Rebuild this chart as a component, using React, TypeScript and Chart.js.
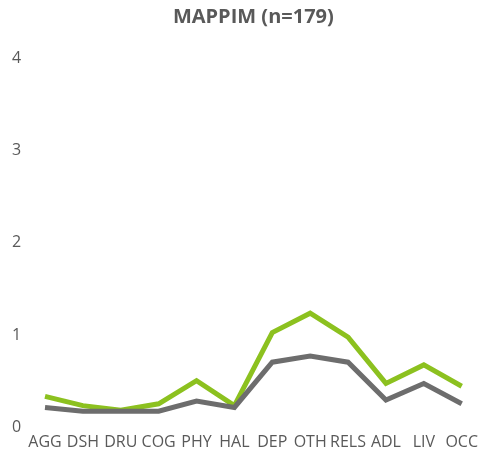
import React, { useEffect, useRef } from "react";
import { Chart, registerables } from "chart.js";

Chart.register(...registerables);

const categories = ["AGG", "DSH", "DRU", "COG", "PHY", "HAL", "DEP", "OTH", "RELS", "ADL", "LIV", "OCC"];
const greenSeries = [0.34, 0.24, 0.19, 0.26, 0.51, 0.24, 1.03, 1.24, 0.98, 0.48, 0.68, 0.45];
const graySeries = [0.22, 0.18, 0.18, 0.18, 0.29, 0.22, 0.71, 0.775, 0.71, 0.3, 0.48, 0.26];
const yTicks = [0, 1, 2, 3, 4];
const titleText = "MAPPIM (n=179)";

export default function App() {
  const ref = useRef<HTMLCanvasElement | null>(null);
  useEffect(() => {
    if (!ref.current) return;
    const chart = new Chart(ref.current, {
      type: "line",
      data: {
        labels: categories,
        datasets: [
          {
            data: graySeries,
            borderColor: "#6d6d6d",
            borderWidth: 5,
            pointRadius: 0,
            tension: 0,
            fill: false,
          },
          {
            data: greenSeries,
            borderColor: "#8cc11f",
            borderWidth: 5,
            pointRadius: 0,
            tension: 0,
            fill: false,
          },
        ],
      },
      options: {
        animation: false,
        responsive: false,
        maintainAspectRatio: false,
        layout: { padding: { left: 12, right: 16, top: 5, bottom: -2 } },
        plugins: {
          legend: { display: false },
          tooltip: { enabled: false },
          title: {
            display: true,
            text: titleText,
            color: "#595959",
            font: { family: "'Open Sans'", size: 20, weight: "bold", lineHeight: 1.2 },
            padding: { top: 0, bottom: 29 },
            fullSize: false,
          },
        },
        scales: {
          x: {
            offset: false,
            grid: { display: false, drawTicks: false },
            border: { display: false },
            ticks: {
              color: "#595959",
              font: { family: "'Open Sans'", size: 16, lineHeight: 1.2 },
              maxRotation: 0,
              autoSkip: false,
              padding: 5,
            },
          },
          y: {
            min: 0,
            max: 4,
            grid: { display: false, drawTicks: false },
            border: { display: false },
            afterBuildTicks: (axis: any) => {
              axis.ticks = yTicks.map((v) => ({ value: v }));
            },
            afterFit: (axis: any) => {
              axis.width = 33;
            },
            ticks: {
              color: "#595959",
              font: { family: "'Open Sans'", size: 16 },
              padding: 0,
              crossAlign: "far",
              stepSize: 1,
            },
          },
        },
      },
    });
    return () => chart.destroy();
  }, []);
  return (
    <div style={{ position: "fixed", left: 0, top: 0, width: 483, height: 455, background: "#fff" }}>
      <canvas ref={ref} width={483} height={455} style={{ width: 483, height: 455 }} />
    </div>
  );
}
